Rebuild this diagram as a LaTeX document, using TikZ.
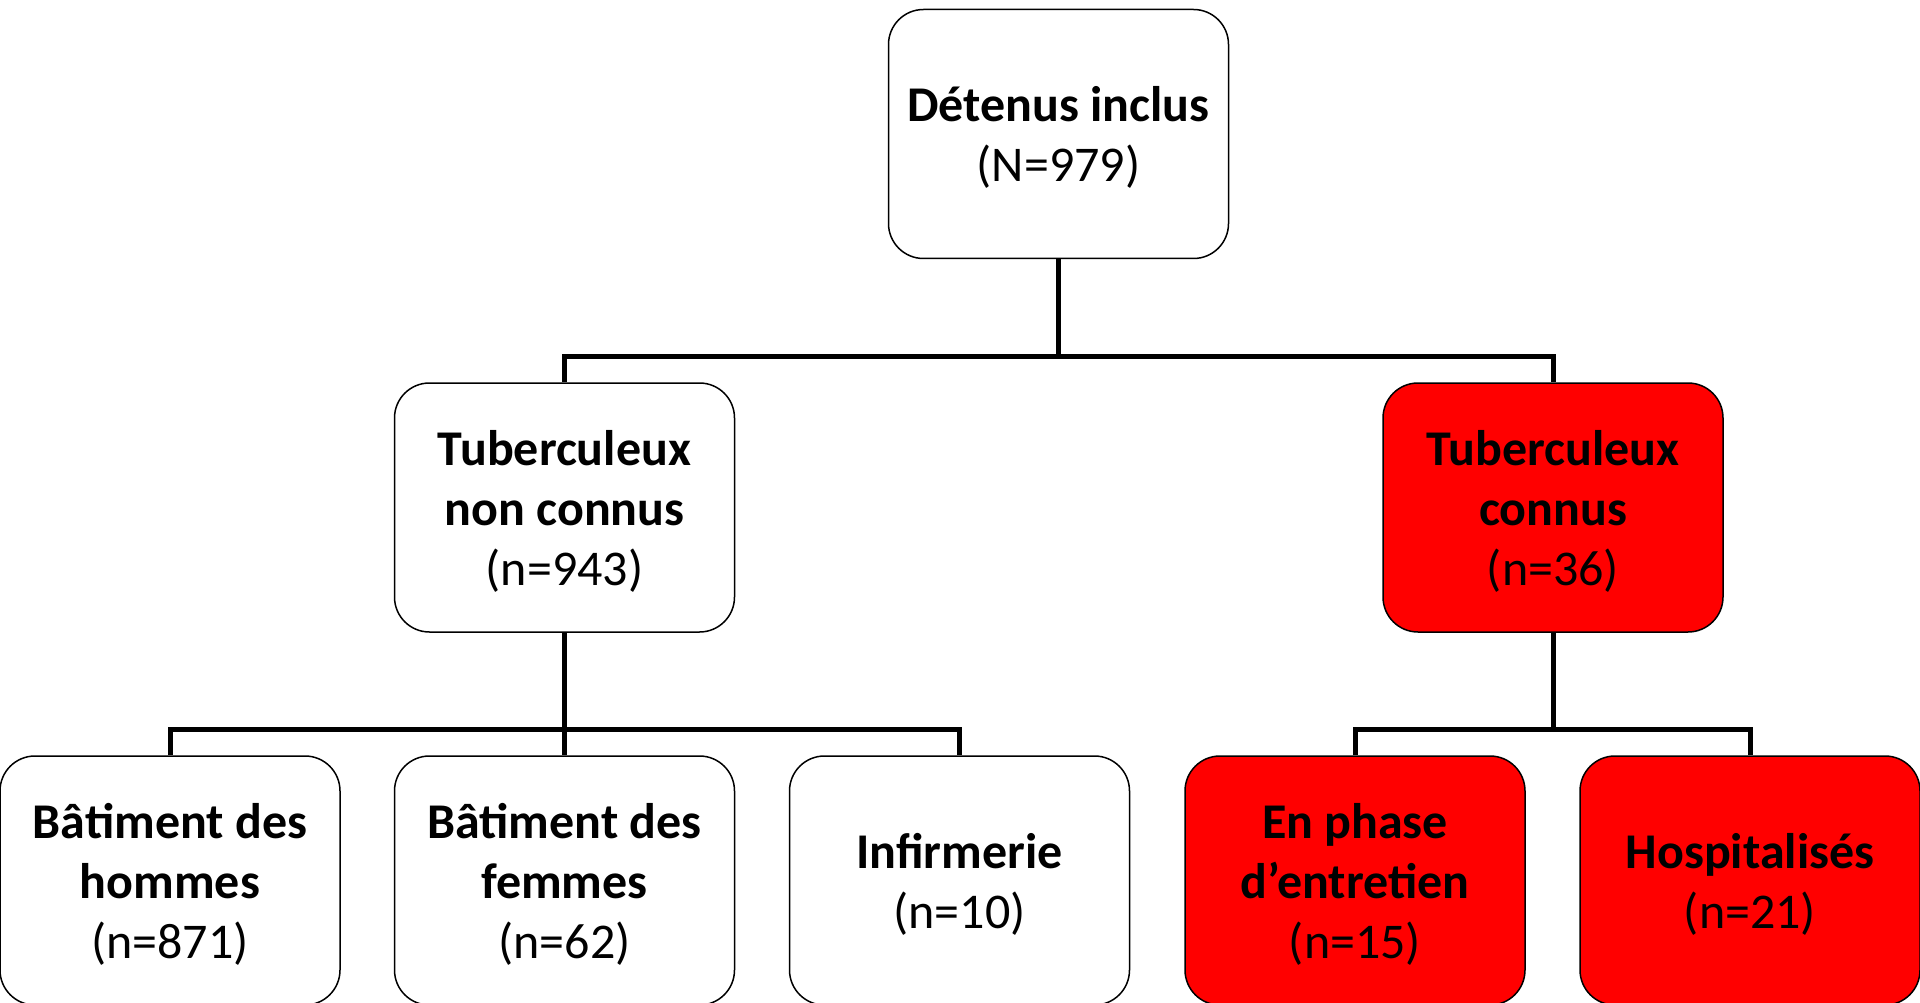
\documentclass[tikz,border=0pt]{standalone}
\usepackage{fontspec}
\setmainfont{Carlito}
\begin{document}
\begin{tikzpicture}[x=1pt,y=-1pt,
  box/.style={draw=black, line width=1.5pt, rounded corners=35pt, minimum width=340pt, minimum height=249pt, inner sep=0pt, align=center, font=\fontsize{50}{60}\selectfont, text depth=0pt},
  plainbox/.style={box, fill=white},
  hotbox/.style={box, fill=red},
  link/.style={line width=5pt, draw=black}]
\useasboundingbox (0,0) rectangle (1920,1003);
\fill[white] (0,0) rectangle (1920,1003);
\coordinate (busA) at (0,356);
\coordinate (busB) at (0,729);
\node[plainbox] (top) at (1058.5,134) {\textbf{Détenus inclus}\\(N=979)};
\node[plainbox] (tnc) at (564.5,507.5) {\textbf{Tuberculeux}\\\textbf{non connus}\\(n=943)};
\node[hotbox] (tc) at (1553,507.5) {\textbf{Tuberculeux}\\\textbf{connus}\\(n=36)};
\node[plainbox] (b1) at (170,880.5) {\textbf{Bâtiment des}\\\textbf{hommes}\\(n=871)};
\node[plainbox] (b2) at (564.5,880.5) {\textbf{Bâtiment des}\\\textbf{femmes}\\(n=62)};
\node[plainbox] (b3) at (959.5,880.5) {\textbf{Infirmerie}\\(n=10)};
\node[hotbox] (b4) at (1355,880.5) {\textbf{En phase}\\\textbf{d’entretien}\\(n=15)};
\node[hotbox] (b5) at (1750,880.5) {\textbf{Hospitalisés}\\(n=21)};
\draw[link] (top.south) -- (top.south |- busA);
\draw[link] (tnc.north) |- (tc.north |- busA) -- (tc.north);
\draw[link] (tnc.south) -- (b2.north);
\draw[link] (b1.north) |- (b3.north |- busB) -- (b3.north);
\draw[link] (tc.south) -- (tc.south |- busB);
\draw[link] (b4.north) |- (b5.north |- busB) -- (b5.north);
\end{tikzpicture}
\end{document}
